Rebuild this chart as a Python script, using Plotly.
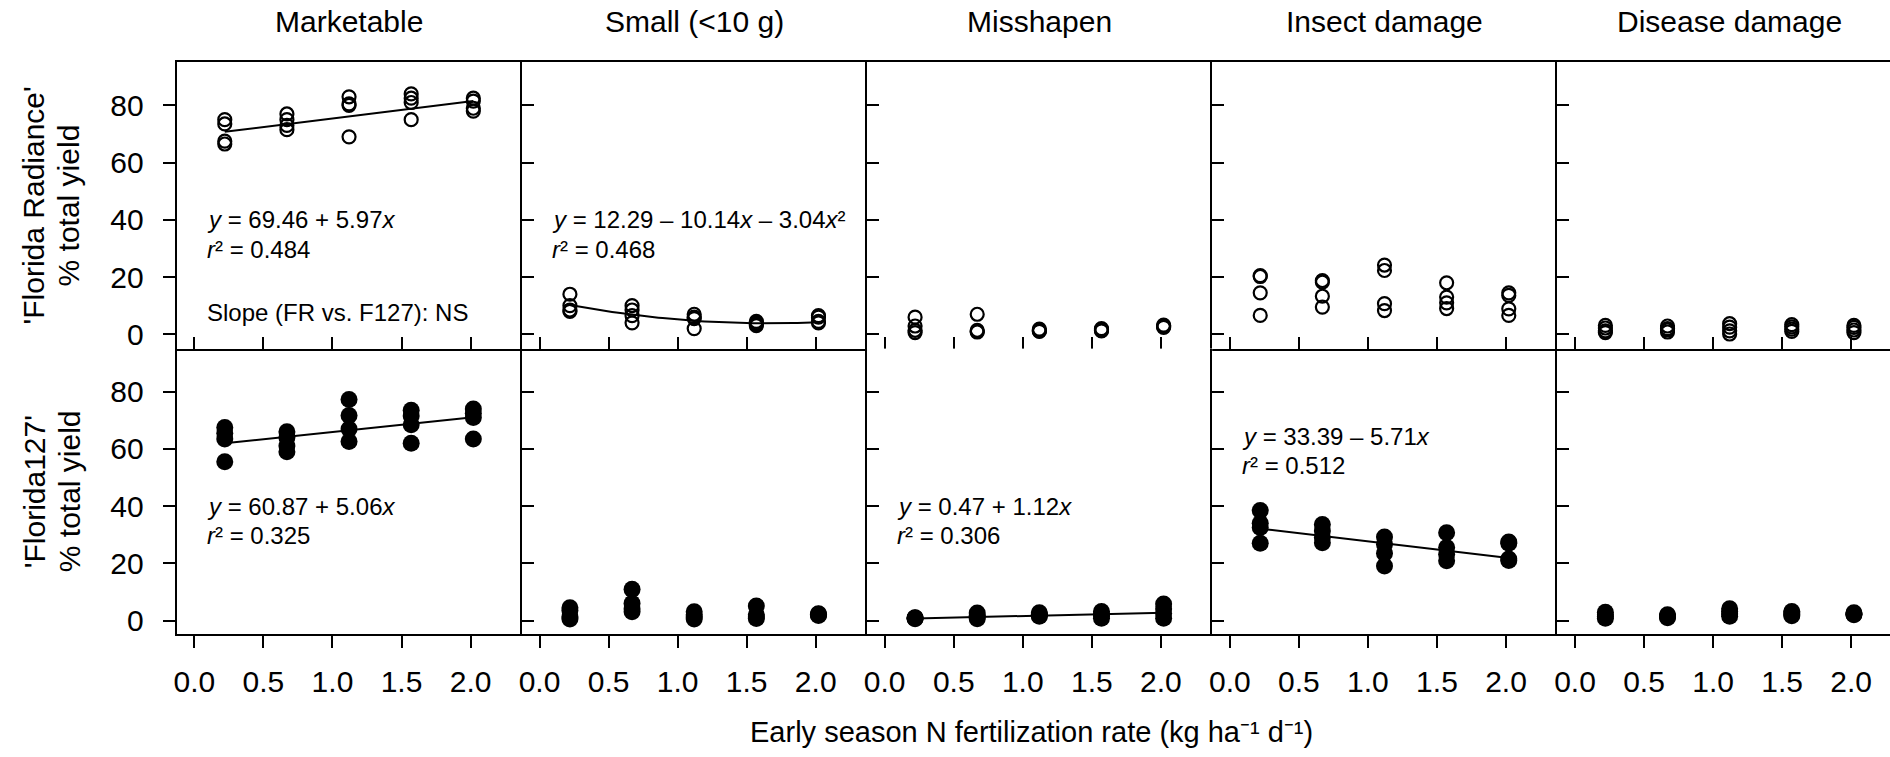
import numpy as np
import plotly.graph_objects as go

W, H = 1890, 757
FONT = "Liberation Sans, Arial, sans-serif"


def it(s, size=24):
    """italic span with an explicit font size"""
    return f'<span style="font-style:italic;font-size:{size}px">{s}</span>'


# ---------------- data ----------------
x_levels = [0.22, 0.67, 1.12, 1.57, 2.02]
panel_titles = ["Marketable", "Small (<10 g)", "Misshapen", "Insect damage", "Disease damage"]
row_titles = ["'Florida Radiance'", "'Florida127'"]
row_subtitle = "% total yield"
x_title = "Early season N fertilization rate (kg ha\u207b\u00b9 d\u207b\u00b9)"
x_tick_vals = [0.0, 0.5, 1.0, 1.5, 2.0]
x_tick_text = ["0.0", "0.5", "1.0", "1.5", "2.0"]
y_tick_vals = [0, 20, 40, 60, 80]
y_tick_text = ["0", "20", "40", "60", "80"]

# 'Florida Radiance' (open circles), 4 replicates per N rate
fr_marketable = [[75.0, 73.5, 67.5, 66.5], [77.0, 75.0, 73.0, 71.5], [83.0, 80.5, 80.0, 69.0],
                 [84.0, 82.5, 81.0, 75.0], [82.5, 81.5, 79.0, 78.0]]
fr_small = [[14.0, 10.0, 8.5, 8.0], [10.0, 8.5, 6.5, 4.0], [7.0, 6.0, 5.5, 2.0],
            [4.5, 4.0, 3.5, 3.0], [6.5, 6.0, 4.5, 4.0]]
fr_misshapen = [[6.0, 2.9, 1.4, 0.6], [7.0, 1.4, 1.0, 0.8], [1.8, 1.4, 1.2, 1.0],
                [2.0, 1.6, 1.4, 1.2], [3.2, 2.9, 2.7, 2.4]]
fr_insect = [[20.5, 20.2, 14.5, 6.6], [18.8, 18.2, 13.3, 9.5], [24.2, 22.3, 10.7, 8.3],
             [18.0, 13.0, 11.0, 9.0], [14.5, 13.6, 8.9, 6.6]]
fr_disease = [[3.1, 2.2, 1.2, 0.6], [2.9, 2.0, 1.5, 0.8], [3.7, 2.5, 1.2, 0.1],
              [3.4, 2.6, 1.8, 1.0], [3.1, 2.4, 1.5, 0.6]]

# 'Florida127' (filled circles)
f127_marketable = [[67.5, 65.5, 63.5, 55.5], [66.0, 64.0, 61.0, 59.0], [77.3, 71.7, 67.0, 62.6],
                   [73.5, 71.5, 68.5, 62.0], [74.0, 72.5, 71.0, 63.5]]
f127_small = [[4.5, 3.5, 1.2, 0.5], [10.9, 6.0, 4.0, 3.1], [3.1, 2.0, 1.2, 0.5],
              [5.1, 2.0, 1.2, 0.7], [2.4, 2.2, 2.0, 1.8]]
f127_misshapen = [[1.0, 0.9, 0.8, 0.6], [2.6, 1.8, 1.2, 0.6], [2.7, 2.2, 1.8, 1.5],
                  [3.2, 2.4, 1.6, 0.8], [5.8, 4.0, 2.5, 0.8]]
f127_insect = [[38.5, 34.0, 32.5, 27.0], [33.6, 31.3, 29.0, 27.2], [29.2, 26.7, 23.5, 19.1],
               [30.7, 25.5, 23.2, 20.9], [27.5, 27.0, 21.5, 21.0]]
f127_disease = [[2.9, 2.0, 1.4, 0.8], [2.0, 1.6, 1.3, 1.0], [4.1, 3.2, 2.3, 1.5],
                [3.2, 2.6, 2.1, 1.7], [2.7, 2.4, 2.2, 2.0]]

# fitted regressions (polynomial coefficients, constant first)
fr_marketable_fit = [69.46, 5.97]
fr_small_fit = [12.29, -10.14, 3.04]
f127_marketable_fit = [60.87, 5.06]
f127_misshapen_fit = [0.47, 1.12]
f127_insect_fit = [33.39, -5.71]

fr_marketable_label = [f"{it('y')} = 69.46 + 5.97{it('x')}", f"{it('r')}\u00b2 = 0.484"]
fr_small_label = [f"{it('y')} = 12.29 \u2013 10.14{it('x')} \u2013 3.04{it('x')}\u00b2",
                  f"{it('r')}\u00b2 = 0.468"]
f127_marketable_label = [f"{it('y')} = 60.87 + 5.06{it('x')}", f"{it('r')}\u00b2 = 0.325"]
f127_misshapen_label = [f"{it('y')} = 0.47 + 1.12{it('x')}", f"{it('r')}\u00b2 = 0.306"]
f127_insect_label = [f"{it('y')} = 33.39 \u2013 5.71{it('x')}", f"{it('r')}\u00b2 = 0.512"]
slope_note = "Slope (FR vs. F127): NS"

# ---------------- assemble ----------------
rows_data = [
    [fr_marketable, fr_small, fr_misshapen, fr_insect, fr_disease],
    [f127_marketable, f127_small, f127_misshapen, f127_insect, f127_disease],
]
fits = {(0, 0): fr_marketable_fit, (0, 1): fr_small_fit, (1, 0): f127_marketable_fit,
        (1, 2): f127_misshapen_fit, (1, 3): f127_insect_fit}
labels = {(0, 0): (fr_marketable_label, 40.0), (0, 1): (fr_small_label, 40.0),
          (1, 0): (f127_marketable_label, 40.0), (1, 2): (f127_misshapen_label, 40.0),
          (1, 3): (f127_insect_label, 64.5)}

# layout geometry (pixels)
x_left, panel_w = 174.0, 345.7
px_per_unit = 138.3
x_min = -0.128
row_px = [(62.7, 350.0), (350.0, 636.5)]
y_ranges = [[-5.0, 95.0], [-4.7, 95.1]]

fig = go.Figure()
layout = dict(
    width=W, height=H, margin=dict(l=0, r=0, t=0, b=0),
    paper_bgcolor="white", plot_bgcolor="white", showlegend=False,
    font=dict(family=FONT, color="black", size=24),
)
annotations = []

for r in range(2):
    for c in range(5):
        idx = r * 5 + c + 1
        xa = "x" if idx == 1 else f"x{idx}"
        ya = "y" if idx == 1 else f"y{idx}"
        xl = x_left + c * panel_w
        xr = min(xl + panel_w, W)
        x_max = x_min + (xr - xl) / px_per_unit
        top, bot = row_px[r]
        xs, ys = [], []
        for xv, reps in zip(x_levels, rows_data[r][c]):
            for v in reps:
                xs.append(xv)
                ys.append(v)
        if r == 0:
            marker = dict(symbol="circle-open", size=13, color="black", line=dict(width=2.2, color="black"))
        else:
            marker = dict(symbol="circle", size=17, color="black", line=dict(width=0))
        fig.add_trace(go.Scatter(x=xs, y=ys, mode="markers", marker=marker, xaxis=xa, yaxis=ya,
                                 hoverinfo="skip"))
        if (r, c) in fits:
            coef = fits[(r, c)]
            xf = np.linspace(x_levels[0], x_levels[-1], 60)
            yf = sum(k * xf ** i for i, k in enumerate(coef))
            fig.add_trace(go.Scatter(x=xf, y=yf, mode="lines", line=dict(color="black", width=2),
                                     xaxis=xa, yaxis=ya, hoverinfo="skip"))
        if (r, c) in labels:
            lab, y0 = labels[(r, c)]
            for k, t in enumerate(lab):
                annotations.append(dict(text=t, x=0.075, y=y0 - k * 10.4, xref=xa, yref=ya,
                                        xanchor="left", yanchor="middle", showarrow=False,
                                        font=dict(size=24, family=FONT, color="black")))
        if (r, c) == (0, 0):
            annotations.append(dict(text=slope_note, x=0.075, y=7.6, xref=xa, yref=ya,
                                    xanchor="left", yanchor="middle", showarrow=False,
                                    font=dict(size=24, family=FONT, color="black")))

        layout["xaxis" if idx == 1 else f"xaxis{idx}"] = dict(
            domain=[xl / W, xr / W], range=[x_min, x_max], anchor=ya,
            showline=True, linecolor="black", linewidth=2, mirror=(r == 0),
            ticks="inside" if r == 0 else "outside", ticklen=12, tickwidth=2, tickcolor="black",
            tickvals=x_tick_vals, ticktext=x_tick_text, showticklabels=(r == 1),
            tickfont=dict(size=30, family=FONT, color="black"), ticklabelstandoff=8,
            showgrid=False, zeroline=False, fixedrange=True,
        )
        layout["yaxis" if idx == 1 else f"yaxis{idx}"] = dict(
            domain=[1 - bot / H, 1 - top / H], range=y_ranges[r], anchor=xa,
            showline=True, linecolor="black", linewidth=2, mirror=False,
            ticks="outside" if c == 0 else "inside", ticklen=12, tickwidth=2, tickcolor="black",
            tickvals=y_tick_vals, ticktext=y_tick_text, showticklabels=(c == 0),
            tickfont=dict(size=30, family=FONT, color="black"), ticklabelstandoff=13,
            showgrid=False, zeroline=False, fixedrange=True,
        )

# column titles
for c, t in enumerate(panel_titles):
    cx = x_left + c * panel_w + panel_w / 2
    annotations.append(dict(text=t, x=cx / W, y=1 - 22 / H, xref="paper", yref="paper",
                            xanchor="center", yanchor="middle", showarrow=False,
                            font=dict(size=30, family=FONT, color="black")))
# row titles
for r, t in enumerate(row_titles):
    cy = (row_px[r][0] + row_px[r][1]) / 2
    annotations.append(dict(text=t, x=31 / W, y=1 - cy / H, xref="paper", yref="paper",
                            xanchor="center", yanchor="middle", textangle=-90, showarrow=False,
                            font=dict(size=30, family=FONT, color="black")))
    annotations.append(dict(text=row_subtitle, x=66 / W, y=1 - cy / H, xref="paper", yref="paper",
                            xanchor="center", yanchor="middle", textangle=-90, showarrow=False,
                            font=dict(size=30, family=FONT, color="black")))
# x-axis title
annotations.append(dict(text=x_title, x=1030 / W, y=1 - 735 / H, xref="paper", yref="paper",
                        xanchor="center", yanchor="middle", showarrow=False,
                        font=dict(size=29, family=FONT, color="black")))

layout["annotations"] = annotations
fig.update_layout(**layout)
fig.write_html("out.html")
